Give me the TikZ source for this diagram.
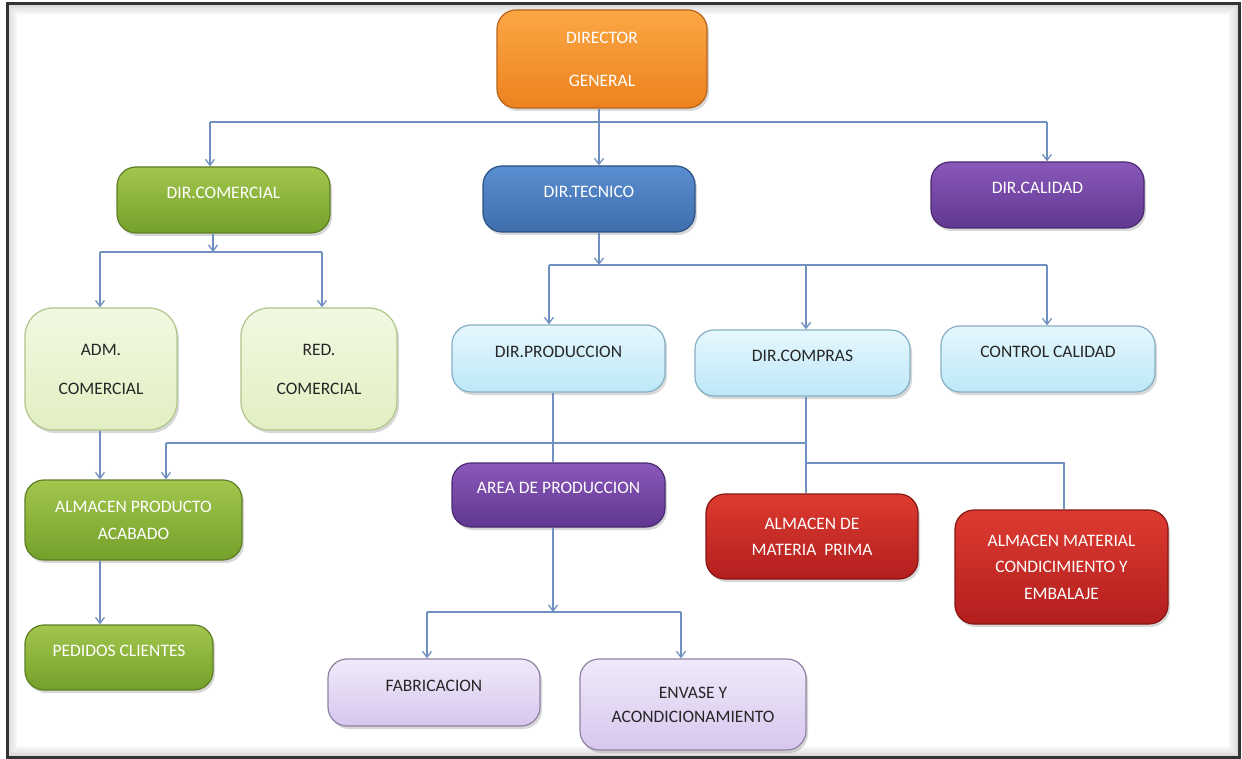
\documentclass[tikz,border=0pt]{standalone}
\usepackage{fontspec}
\setmainfont{Carlito}
\usetikzlibrary{arrows.meta,shadows}
\definecolor{orT}{HTML}{FBA744}\definecolor{orB}{HTML}{EC821F}\definecolor{orD}{HTML}{B8631A}
\definecolor{grT}{HTML}{A2C64E}\definecolor{grB}{HTML}{74A02A}\definecolor{grD}{HTML}{5E7F25}
\definecolor{blT}{HTML}{5B8ED0}\definecolor{blB}{HTML}{3E6EAC}\definecolor{blD}{HTML}{2E5284}
\definecolor{puT}{HTML}{8A58BA}\definecolor{puB}{HTML}{603891}\definecolor{puD}{HTML}{4A2A70}
\definecolor{lgT}{HTML}{F2F8E2}\definecolor{lgB}{HTML}{E2EFC2}\definecolor{lgD}{HTML}{AFC58A}
\definecolor{cyT}{HTML}{E6F7FD}\definecolor{cyB}{HTML}{BCE8F8}\definecolor{cyD}{HTML}{86AFC4}
\definecolor{reT}{HTML}{DD3B30}\definecolor{reB}{HTML}{B21E1E}\definecolor{reD}{HTML}{861515}
\definecolor{laT}{HTML}{F1EAF9}\definecolor{laB}{HTML}{D6C6EE}\definecolor{laD}{HTML}{8E82A2}
\definecolor{conn}{HTML}{7190C2}
\tikzset{
  box/.style={rounded corners=19pt, line width=1.2pt, align=center,
    font=\fontsize{17.5}{21}\selectfont,
    drop shadow={opacity=0.3, shadow xshift=2pt, shadow yshift=-3pt}},
  oneline/.style={text height=11.3pt, text depth=14pt},
  orangebox/.style={box, draw=orD, top color=orT, bottom color=orB, text=white},
  greenbox/.style={box, draw=grD, top color=grT, bottom color=grB, text=white},
  bluebox/.style={box, draw=blD, top color=blT, bottom color=blB, text=white},
  purplebox/.style={box, draw=puD, top color=puT, bottom color=puB, text=white},
  lightgreenbox/.style={box, draw=lgD, top color=lgT, bottom color=lgB, text=black!85, rounded corners=28pt},
  cyanbox/.style={box, draw=cyD, top color=cyT, bottom color=cyB, text=black!85},
  redbox/.style={box, draw=reD, top color=reT, bottom color=reB, text=white},
  lavbox/.style={box, draw=laD, top color=laT, bottom color=laB, text=black!85},
  line/.style={draw=conn, line width=1.3pt},
  arr/.style={line, -{Straight Barb[length=6pt,width=9pt]}}
}
\begin{document}
\begin{tikzpicture}[x=1pt,y=-1pt]
\useasboundingbox (0,0) rectangle (1242,759);
\fill[white] (0,0) rectangle (1242,759);
% frame with inner shadow
\foreach \i in {1,...,9}{
  \draw[black, opacity={0.16*(1-\i/10)}, line width=1.2pt] (7+1.2*\i,4+1.2*\i) rectangle (1239-1.2*\i,757-1.2*\i);
}
\draw[black!80, line width=3pt] (7,4) rectangle (1239,757);

% nodes
\node[orangebox, minimum width=210pt, minimum height=98pt] (dg) at (602,59) {DIRECTOR\\[22pt]GENERAL};
\node[greenbox, oneline, minimum width=213pt, minimum height=66pt] (dc) at (223.5,200) {DIR.COMERCIAL};
\node[bluebox, oneline, minimum width=212pt, minimum height=66pt] (dt) at (589,199) {DIR.TECNICO};
\node[purplebox, oneline, minimum width=213pt, minimum height=66pt] (dcal) at (1037.5,195) {DIR.CALIDAD};
\node[lightgreenbox, minimum width=152pt, minimum height=122pt] (adm) at (101,369) {ADM.\\[18pt]COMERCIAL};
\node[lightgreenbox, minimum width=156pt, minimum height=122pt] (red) at (319,369) {RED.\\[18pt]COMERCIAL};
\node[cyanbox, oneline, minimum width=213pt, minimum height=67pt] (dp) at (558.5,358.5) {DIR.PRODUCCION};
\node[cyanbox, oneline, minimum width=215pt, minimum height=66pt] (dcomp) at (802.5,363) {DIR.COMPRAS};
\node[cyanbox, oneline, minimum width=214pt, minimum height=66pt] (cc) at (1048,359) {CONTROL CALIDAD};
\node[greenbox, minimum width=217pt, minimum height=80pt] (apa) at (133.5,520) {ALMACEN PRODUCTO\\[6pt]ACABADO};
\node[purplebox, oneline, minimum width=213pt, minimum height=64pt] (area) at (558.5,495) {AREA DE PRODUCCION};
\node[redbox, minimum width=212pt, minimum height=85pt] (amp) at (812,536.5) {ALMACEN DE\\[5pt]MATERIA\ \ PRIMA};
\node[redbox, minimum width=213pt, minimum height=114pt] (amce) at (1061.5,567) {ALMACEN MATERIAL\\[5.5pt]CONDICIMIENTO Y\\[5.5pt]EMBALAJE};
\node[greenbox, oneline, minimum width=188pt, minimum height=65pt] (pc) at (119,657.5) {PEDIDOS CLIENTES};
\node[lavbox, oneline, minimum width=212pt, minimum height=67pt] (fab) at (434,692.5) {FABRICACION};
\node[lavbox, minimum width=226pt, minimum height=91pt] (env) at (693,704.5) {ENVASE Y\\[3pt]ACONDICIONAMIENTO};

% bus under director general
\coordinate (t1l) at (210,122);
\coordinate (t1) at (599,122);
\coordinate (t1r) at (1047,122);
\draw[line] (dg.south -| t1) -- (t1);
\draw[line] (t1l) -- (t1r);
\draw[arr] (t1l) -- (t1l |- dc.north);
\draw[arr] (t1) -- (t1 |- dt.north);
\draw[arr] (t1r) -- (t1r |- dcal.north);

% comercial
\coordinate (b2) at (213,252);
\coordinate (b2l) at (100,252);
\coordinate (b2r) at (322,252);
\draw[arr] (dc.south -| b2) -- (b2);
\draw[line] (b2l) -- (b2r);
\draw[arr] (b2l) -- (b2l |- adm.north);
\draw[arr] (b2r) -- (b2r |- red.north);

% tecnico
\coordinate (b3) at (599,265);
\coordinate (b3l) at (549,265);
\coordinate (b3m) at (806,265);
\coordinate (b3r) at (1047,265);
\draw[arr] (dt.south -| b3) -- (b3);
\draw[line] (b3l) -- (b3r);
\draw[arr] (b3l) -- (b3l |- dp.north);
\draw[arr] (b3m) -- (b3m |- dcomp.north);
\draw[arr] (b3r) -- (b3r |- cc.north);

% adm -> almacen producto -> pedidos
\coordinate (av) at (100,0);
\draw[arr] (adm.south -| av) -- (apa.north -| av);
\draw[arr] (apa.south -| av) -- (pc.north -| av);

% compras tree
\coordinate (c4) at (806,443);
\coordinate (c4l) at (166,443);
\coordinate (c5) at (806,463);
\coordinate (c5r) at (1064,463);
\draw[line] (dcomp.south -| c4) -- (amp.north -| c4);
\draw[line] (c4) -- (c4l);
\draw[arr] (c4l) -- (c4l |- apa.north);
\draw[line] (c5) -- (c5r) -- (c5r |- amce.north);

% produccion -> area
\coordinate (pv) at (553,443);
\draw[line] (dp.south -| pv) -- (area.north -| pv);

% area bus
\coordinate (b6) at (553,612);
\coordinate (b6l) at (427,612);
\coordinate (b6r) at (681,612);
\draw[arr] (area.south -| b6) -- (b6);
\draw[line] (b6l) -- (b6r);
\draw[arr] (b6l) -- (b6l |- fab.north);
\draw[arr] (b6r) -- (b6r |- env.north);
\end{tikzpicture}
\end{document}
